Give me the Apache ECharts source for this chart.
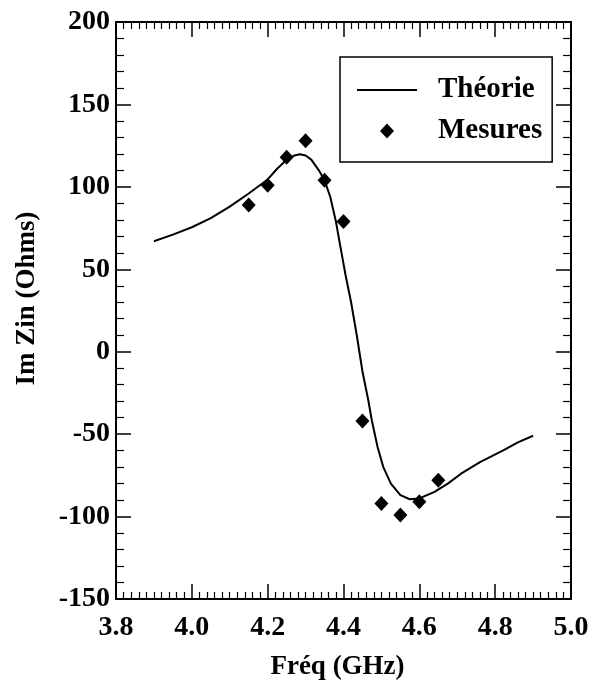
<!DOCTYPE html>
<html>
<head>
<meta charset="utf-8">
<script src="https://cdn.jsdelivr.net/npm/echarts@6/dist/echarts.min.js"></script>
<style>
html,body{margin:0;padding:0;background:#fff;}
#chart{width:601px;height:688px;}
</style>
</head>
<body>
<div id="chart"></div>
<script>
// Theory curve
var theoryX = [3.90,3.95,4.00,4.05,4.10,4.15,4.20,4.225,4.25,4.27,4.285,4.30,4.315,4.335,4.35,4.365,4.38,4.39,4.405,4.42,4.435,4.45,4.465,4.475,4.49,4.505,4.525,4.55,4.575,4.60,4.64,4.675,4.71,4.76,4.82,4.86,4.90];
var theoryY = [67,71,75.5,81,88,96,104.5,111,116.5,119,119.8,119,116.5,110,104,94,79,66,47,30,10,-12,-29,-42,-58,-70,-80,-87,-89.5,-89,-85,-80,-74,-67,-60,-55,-51];
// Measurements
var measX = [4.15,4.20,4.25,4.30,4.35,4.40,4.45,4.50,4.55,4.60,4.65];
var measY = [89,101,118,128,104,79,-42,-92,-99,-91,-78];
// Axis settings
var xMin = 3.8, xMax = 5.0, xStep = 0.2;
var yMin = -150, yMax = 200, yStep = 50;
var seriesNames = ['Théorie', 'Mesures'];
var xTitle = 'Fréq (GHz)';
var yTitle = 'Im Zin (Ohms)';

var FONT = 'Liberation Serif';
var chart = echarts.init(document.getElementById('chart'), null, {renderer:'canvas'});

function zip(a, b){ var r=[]; for (var i=0;i<a.length;i++) r.push([a[i], b[i]]); return r; }

var lineCol = '#000';
function xAx(pos, show){
  return {
    type:'value', position:pos, min:xMin, max:xMax, interval:xStep,
    axisLine:{show:true, onZero:false, lineStyle:{color:lineCol, width:2}},
    axisTick:{show:true, inside:true, length:15, lineStyle:{color:lineCol, width:1.5}},
    minorTick:{show:true, splitNumber:10, length:7, lineStyle:{color:lineCol, width:1.2}},
    splitLine:{show:false},
    axisLabel:{show:show, margin:15, color:'#000', fontFamily:FONT, fontWeight:'bold', fontSize:28,
      formatter:function(v){ return v.toFixed(1); }},
    name: show ? xTitle : '', nameLocation:'middle', nameGap:55,
    nameTextStyle:{color:'#000', fontFamily:FONT, fontWeight:'bold', fontSize:27, padding:[0,12,0,0]}
  };
}
function yAx(pos, show){
  return {
    type:'value', position:pos, min:yMin, max:yMax, interval:yStep,
    axisLine:{show:true, onZero:false, lineStyle:{color:lineCol, width:2}},
    axisTick:{show:true, inside:true, length:15, lineStyle:{color:lineCol, width:1.5}},
    minorTick:{show:true, splitNumber:5, length:8, lineStyle:{color:lineCol, width:1.2}},
    splitLine:{show:false},
    axisLabel:{show:show, margin:6, color:'#000', fontFamily:FONT, fontWeight:'bold', fontSize:28},
    name: show ? yTitle : '', nameLocation:'middle', nameGap:75, nameRotate:90,
    nameTextStyle:{color:'#000', fontFamily:FONT, fontWeight:'bold', fontSize:27, padding:[0,0,0,24]}
  };
}

chart.setOption({
  animation:false,
  backgroundColor:'#fff',
  grid:{left:116, right:30, top:22, bottom:89, containLabel:false},
  xAxis:[xAx('bottom', true), xAx('top', false)],
  yAxis:[yAx('left', true), yAx('right', false)],
  legend:{
    orient:'vertical', left:340, top:57,
    padding:[18,10,16,17], itemGap:11,
    itemWidth:60, itemHeight:15, symbolKeepAspect:true,
    borderColor:'#000', borderWidth:1.5,
    data:[
      {name:seriesNames[0], icon:'path://M0,0 L60,0 L60,2 L0,2 Z'},
      {name:seriesNames[1], icon:'path://M7,0 L14,7.5 L7,15 L0,7.5 Z'}
    ],
    textStyle:{color:'#000', fontFamily:FONT, fontWeight:'bold', fontSize:29, lineHeight:30, padding:[0,0,0,16]}
  },
  series:[
    {name:seriesNames[0], type:'line', data:zip(theoryX, theoryY), symbol:'none', showSymbol:false,
     smooth:false, lineStyle:{color:'#000', width:2}, itemStyle:{color:'#000'}},
    {name:seriesNames[1], type:'scatter', data:zip(measX, measY), symbol:'diamond', symbolSize:[14,15],
     itemStyle:{color:'#000', opacity:1}}
  ]
});
</script>
</body>
</html>
